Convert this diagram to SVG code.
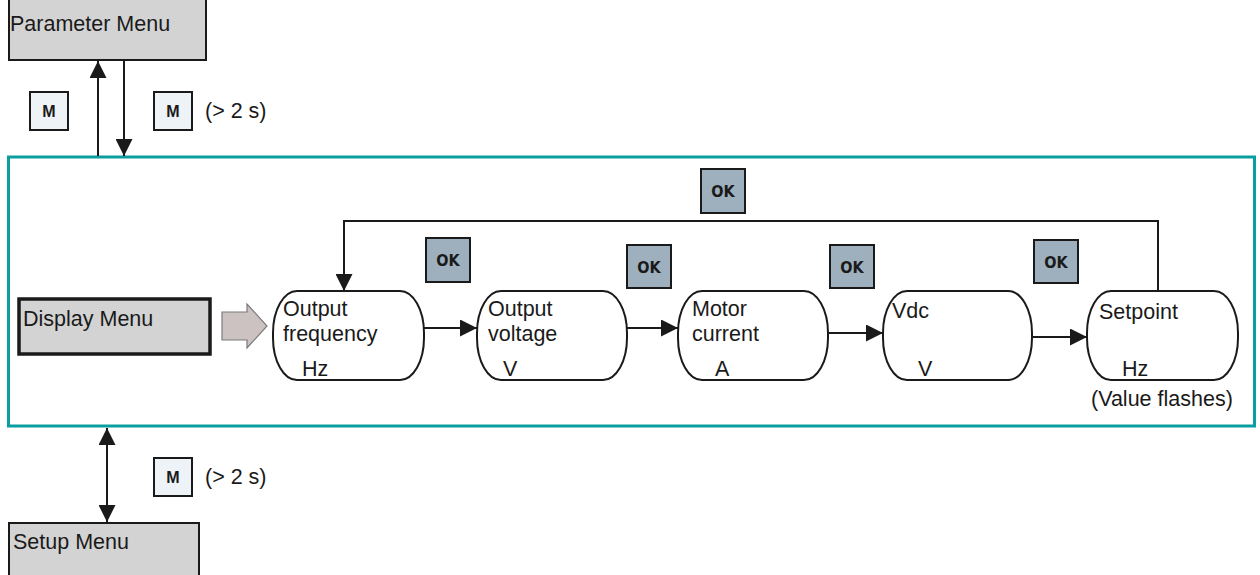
<svg xmlns="http://www.w3.org/2000/svg" width="1260" height="575" viewBox="0 0 1260 575">
<defs>
<marker id="ah" viewBox="0 0 17 17" refX="17" refY="8.5" markerWidth="17" markerHeight="17" markerUnits="userSpaceOnUse" orient="auto-start-reverse">
<path d="M0,0 L17,8.5 L0,17 Z" fill="#1a1a1a"/>
</marker>
</defs>
<style>
text{font-family:"Liberation Sans",Arial,sans-serif;fill:#1a1a1a}
.t{font-size:21.5px}
.menu{fill:#d3d3d3;stroke:#1a1a1a;stroke-width:2}
.node{fill:#fff;stroke:#1a1a1a;stroke-width:2}
.mb{fill:#eef3f8;stroke:#1a1a1a;stroke-width:2}
.mt{font-family:"Liberation Sans",Arial,sans-serif;font-weight:bold;font-size:16px;text-anchor:middle}
.ok{fill:#9eb0bd;stroke:#1a1a1a;stroke-width:2}
.okt{font-family:"DejaVu Sans Condensed","DejaVu Sans",sans-serif;font-weight:bold;font-size:16px;text-anchor:middle}
.c{fill:none;stroke:#1a1a1a;stroke-width:2}
</style>
<rect width="1260" height="575" fill="#fff"/>
<rect x="8.5" y="157" width="1246" height="269" fill="none" stroke="#0a9ea0" stroke-width="3"/>

<g id="parameter-menu">
<rect class="menu" x="9" y="-2" width="197" height="62"/>
<text class="t" x="10" y="31">Parameter Menu</text>
</g>
<g id="display-menu">
<rect x="19" y="299" width="191" height="55" fill="#d3d3d3" stroke="#1a1a1a" stroke-width="3.5"/>
<text class="t" x="23" y="326">Display Menu</text>
</g>
<g id="setup-menu">
<rect class="menu" x="9" y="523" width="190" height="60"/>
<text class="t" x="13" y="549">Setup Menu</text>
</g>

<g id="m-btn-1"><rect class="mb" x="30" y="92" width="38" height="38"/><text class="mt" x="49" y="117">M</text></g>
<g id="m-btn-2"><rect class="mb" x="154" y="92" width="38" height="38"/><text class="mt" x="173" y="117">M</text><text class="t" x="205" y="118">(&gt; 2 s)</text></g>
<g id="m-btn-3"><rect class="mb" x="154" y="458" width="38" height="38"/><text class="mt" x="173" y="483">M</text><text class="t" x="205" y="484">(&gt; 2 s)</text></g>

<g id="block-arrow">
<path d="M222,312 L247,312 L247,304 L267,326 L247,348 L247,340 L222,340 Z" fill="#cdc2c2" stroke="#7a7a7a" stroke-width="1.2"/>
</g>

<g id="node-output-frequency">
<rect class="node" x="273" y="291" width="151" height="89" rx="24" ry="42"/>
<text class="t" x="283" y="316">Output</text>
<text class="t" x="283" y="341">frequency</text>
<text class="t" x="302" y="376">Hz</text>
</g>
<g id="node-output-voltage">
<rect class="node" x="477" y="291" width="150" height="89" rx="24" ry="42"/>
<text class="t" x="488" y="316">Output</text>
<text class="t" x="488" y="341">voltage</text>
<text class="t" x="503" y="376">V</text>
</g>
<g id="node-motor-current">
<rect class="node" x="678" y="291" width="150" height="89" rx="24" ry="42"/>
<text class="t" x="692" y="316">Motor</text>
<text class="t" x="692" y="341">current</text>
<text class="t" x="715" y="376">A</text>
</g>
<g id="node-vdc">
<rect class="node" x="883" y="291" width="149" height="89" rx="24" ry="42"/>
<text class="t" x="892" y="318">Vdc</text>
<text class="t" x="918" y="376">V</text>
</g>
<g id="node-setpoint">
<rect class="node" x="1087" y="291" width="151" height="89" rx="24" ry="42"/>
<text class="t" x="1099" y="319">Setpoint</text>
<text class="t" x="1122" y="376">Hz</text>
<text class="t" x="1091" y="406">(Value flashes)</text>
</g>

<g id="ok-buttons">
<g id="ok-top"><rect class="ok" x="701" y="169" width="44" height="44"/><text class="okt" x="723" y="197">OK</text></g>
<g id="ok-1"><rect class="ok" x="426" y="238" width="44" height="44"/><text class="okt" x="448" y="266">OK</text></g>
<g id="ok-2"><rect class="ok" x="627" y="245" width="44" height="43"/><text class="okt" x="649" y="273">OK</text></g>
<g id="ok-3"><rect class="ok" x="830" y="245" width="44" height="43"/><text class="okt" x="852" y="273">OK</text></g>
<g id="ok-4"><rect class="ok" x="1034" y="240" width="44" height="43"/><text class="okt" x="1056" y="268">OK</text></g>
</g>

<g id="connectors">
<line class="c" x1="98" y1="156" x2="98" y2="61" marker-end="url(#ah)"/>
<line class="c" x1="124" y1="60" x2="124" y2="156" marker-end="url(#ah)"/>
<line class="c" x1="107" y1="428" x2="107" y2="522" marker-start="url(#ah)" marker-end="url(#ah)"/>
<line class="c" x1="424" y1="328" x2="477" y2="328" marker-end="url(#ah)"/>
<line class="c" x1="627" y1="328" x2="678" y2="328" marker-end="url(#ah)"/>
<line class="c" x1="828" y1="333" x2="883" y2="333" marker-end="url(#ah)"/>
<line class="c" x1="1032" y1="337" x2="1087" y2="337" marker-end="url(#ah)"/>
<polyline class="c" points="1158,291 1158,221 344,221 344,291" marker-end="url(#ah)"/>
</g>
</svg>
